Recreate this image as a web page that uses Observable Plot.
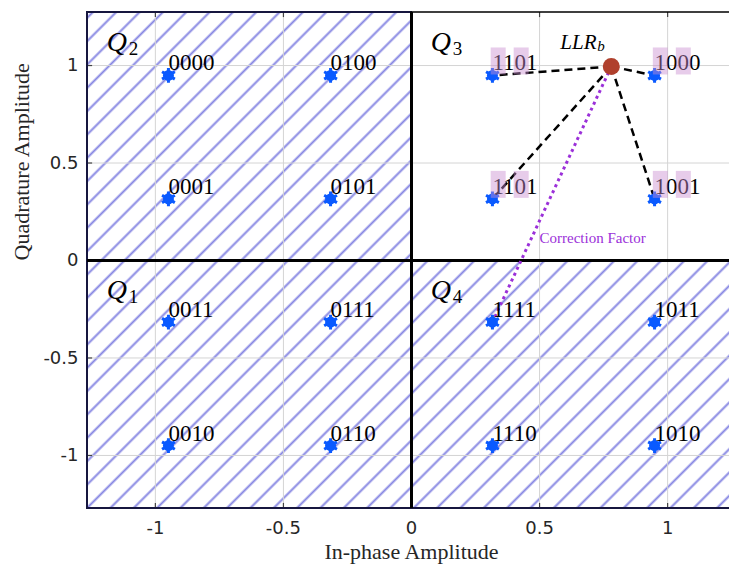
<!DOCTYPE html>
<html>
<head>
<meta charset="utf-8">
<script src="https://cdn.jsdelivr.net/npm/d3@7"></script>
<script src="https://cdn.jsdelivr.net/npm/@observablehq/plot@0.6"></script>
<style>
  html, body { margin: 0; padding: 0; background: #fff; overflow: hidden; }
</style>
</head>
<body>
<div id="chart"></div>
<script>
// ---- data ----
const xTicks = [-1, -0.5, 0, 0.5, 1];
const yTicks = [-1, -0.5, 0, 0.5, 1];
const xDomain = [-1.265, 1.265];
const yDomain = [-1.272, 1.272];

// 16-QAM constellation points (in-phase, quadrature) and their bit labels
const symbolI = [-0.949, -0.316, -0.949, -0.316, -0.949, -0.316, -0.949, -0.316,
                  0.316,  0.949,  0.316,  0.949,  0.316,  0.949,  0.316,  0.949];
const symbolQ = [ 0.949,  0.949,  0.316,  0.316, -0.316, -0.316, -0.949, -0.949,
                 -0.316, -0.316, -0.949, -0.949,  0.949,  0.949,  0.316,  0.316];
const bitLabels = ["0000", "0100", "0001", "0101", "0011", "0111", "0010", "0110",
                   "1111", "1011", "1110", "1010", "1101", "1000", "1101", "1001"];
const highlightedSymbols = [12, 13, 14, 15];   // labels in Q3 with highlighted bits
const highlightedBits = [0, 2];                // bit positions highlighted

// quadrants
const quadrantNames = ["1", "2", "3", "4"];
const quadrantX1 = [-1.265, -1.265, 0, 0];
const quadrantX2 = [0, 0, 1.265, 1.265];
const quadrantY1 = [-1.272, 0, 0, -1.272];
const quadrantY2 = [0, 1.272, 1.272, 0];
const quadrantHatched = [true, true, false, true];
const quadrantLabelI = [-1.19, -1.19, 0.075, 0.075];
const quadrantLabelQ = [-0.195, 1.077, 1.077, -0.195];

// received point (LLR_b)
const llrI = [0.78];
const llrQ = [0.995];
const llrName = "LLR";
const llrSub = "b";
const dashedTargets = [12, 13, 14, 15];
const correctionTarget = [8];
const correctionText = ["Correction Factor"];
const correctionI = [0.5];
const correctionQ = [0.09];

const xLabel = "In-phase Amplitude";
const yLabel = "Quadrature Amplitude";

// ---- derived tables ----
const allSymbols = d3.range(symbolI.length);
const quads = d3.range(4).map(i => ({
  x1: quadrantX1[i], x2: quadrantX2[i], y1: quadrantY1[i], y2: quadrantY2[i],
  hatched: quadrantHatched[i], name: quadrantNames[i], lx: quadrantLabelI[i], ly: quadrantLabelQ[i]
}));
const hatchedQuads = quads.filter(q => q.hatched);
const plainQuads = quads.filter(q => !q.hatched);
const tickLenY = 0.026, tickLenX = 0.02;

const boxSymbol = { draw(ctx) { ctx.rect(-7.5, -13.5, 15, 27); } };
const digitW = 11.5;

const serif = "Liberation Serif";
const blue = "#0a5aff";
const purple = "#9b30d9";

const plot = Plot.plot({
  width: 729,
  height: 566,
  marginLeft: 87,
  marginRight: 0,
  marginTop: 12,
  marginBottom: 58,
  x: { domain: xDomain, range: [87, 735] },
  y: { domain: yDomain },
  style: { fontFamily: "DejaVu Sans", fontSize: "18px", background: "white", overflow: "visible" },
  marks: [
    Plot.rect(hatchedQuads, { x1: "x1", x2: "x2", y1: "y1", y2: "y2", fill: "url(#hatch)" }),
    Plot.rect(plainQuads, { x1: "x1", x2: "x2", y1: "y1", y2: "y2", fill: "white" }),
    Plot.ruleX(xTicks.filter(t => t !== 0), { stroke: "#d4d4d4", strokeWidth: 1 }),
    Plot.ruleY(yTicks.filter(t => t !== 0), { stroke: "#d4d4d4", strokeWidth: 1 }),
    // inward tick marks
    Plot.ruleX(xTicks, { y1: yDomain[1], y2: yDomain[1] - tickLenY, stroke: "#444", strokeWidth: 1.2 }),
    Plot.ruleX(xTicks, { y1: yDomain[0], y2: yDomain[0] + tickLenY, stroke: "#444", strokeWidth: 1.2 }),
    Plot.ruleY(yTicks, { x1: xDomain[0], x2: xDomain[0] + tickLenX, stroke: "#444", strokeWidth: 1.2 }),
    // quadrant borders
    Plot.rect(hatchedQuads, { x1: "x1", x2: "x2", y1: "y1", y2: "y2", fill: "none", stroke: "#16163f", strokeWidth: 2 }),
    Plot.rect(plainQuads, { x1: "x1", x2: "x2", y1: "y1", y2: "y2", fill: "none", stroke: "#000", strokeWidth: 1.5 }),
    Plot.ruleX([0], { stroke: "#000", strokeWidth: 3 }),
    Plot.ruleY([0], { stroke: "#000", strokeWidth: 3 }),
    // axes
    Plot.axisX({ ticks: xTicks, tickSize: 0, tickPadding: 13, tickFormat: d => String(d), label: null, fill: "#262626", fontSize: 18 }),
    Plot.axisY({ ticks: yTicks, tickSize: 0, tickPadding: 9, tickFormat: d => String(d), label: null, fill: "#262626", fontSize: 18 }),
    Plot.text([xLabel], { text: d => d, frameAnchor: "bottom", lineAnchor: "bottom", dx: 3, dy: 50, fontFamily: serif, fontSize: 22, fill: "#262626" }),
    Plot.text([yLabel], { text: d => d, frameAnchor: "left", lineAnchor: "middle", rotate: -90, dx: -66, fontFamily: serif, fontSize: 22, fill: "#262626" }),
    // links from received point
    Plot.link(dashedTargets, {
      x1: () => llrI[0], y1: () => llrQ[0], x2: i => symbolI[i], y2: i => symbolQ[i],
      stroke: "#000", strokeWidth: 2.5, strokeDasharray: "8,5"
    }),
    Plot.link(correctionTarget, {
      x1: () => llrI[0], y1: () => llrQ[0], x2: i => symbolI[i], y2: i => symbolQ[i],
      stroke: purple, strokeWidth: 3, strokeDasharray: "3,3.5"
    }),
    // constellation markers
    Plot.dot(allSymbols, { x: i => symbolI[i], y: i => symbolQ[i], r: 5.5, fill: blue }),
    Plot.dot(allSymbols, { x: i => symbolI[i], y: i => symbolQ[i], r: 7, symbol: "asterisk", stroke: blue, strokeWidth: 3 }),
    // bit labels
    Plot.text(allSymbols, {
      x: i => symbolI[i], y: i => symbolQ[i], text: i => bitLabels[i],
      textAnchor: "start", lineAnchor: "bottom", dy: -5, dx: 0,
      fontFamily: serif, fontSize: 23, fill: "#000"
    }),
    // highlighted bits
    ...highlightedBits.map(b => Plot.dot(highlightedSymbols, {
      x: i => symbolI[i], y: i => symbolQ[i], symbol: boxSymbol,
      dx: digitW * (b + 0.5), dy: -14.5, fill: "#c98fd0", fillOpacity: 0.45
    })),
    // received point
    Plot.dot(llrI, { x: (d, i) => llrI[i], y: (d, i) => llrQ[i], r: 8.5, fill: "#b0402d" }),
    Plot.text(llrI, { x: (d, i) => llrI[i], y: (d, i) => llrQ[i], text: () => llrName,
      textAnchor: "start", lineAnchor: "bottom", dx: -51, dy: -18, fontFamily: serif, fontStyle: "italic", fontSize: 21, fill: "#000" }),
    Plot.text(llrI, { x: (d, i) => llrI[i], y: (d, i) => llrQ[i], text: () => llrSub,
      textAnchor: "start", lineAnchor: "bottom", dx: -14, dy: -16, fontFamily: serif, fontStyle: "italic", fontSize: 15, fill: "#000" }),
    Plot.text(correctionText, { x: (d, i) => correctionI[i], y: (d, i) => correctionQ[i], text: d => d,
      textAnchor: "start", lineAnchor: "bottom", fontFamily: serif, fontSize: 15, fill: purple }),
    // quadrant labels
    Plot.text(quads, { x: "lx", y: "ly", text: () => "Q", textAnchor: "start", lineAnchor: "bottom",
      fontFamily: serif, fontStyle: "italic", fontSize: 28, fill: "#000" }),
    Plot.text(quads, { x: "lx", y: "ly", text: "name", textAnchor: "start", lineAnchor: "bottom", dx: 22, dy: 4,
      fontFamily: serif, fontSize: 19, fill: "#000" })
  ]
});

const ns = "http://www.w3.org/2000/svg";
const defs = document.createElementNS(ns, "defs");
defs.innerHTML = '<pattern id="hatch" patternUnits="userSpaceOnUse" width="16.5" height="16.5" patternTransform="rotate(45)">' +
  '<line x1="8.25" y1="-1" x2="8.25" y2="17.5" stroke="#8686e2" stroke-width="2"/></pattern>';
plot.insertBefore(defs, plot.firstChild);
document.getElementById("chart").appendChild(plot);
</script>
</body>
</html>
